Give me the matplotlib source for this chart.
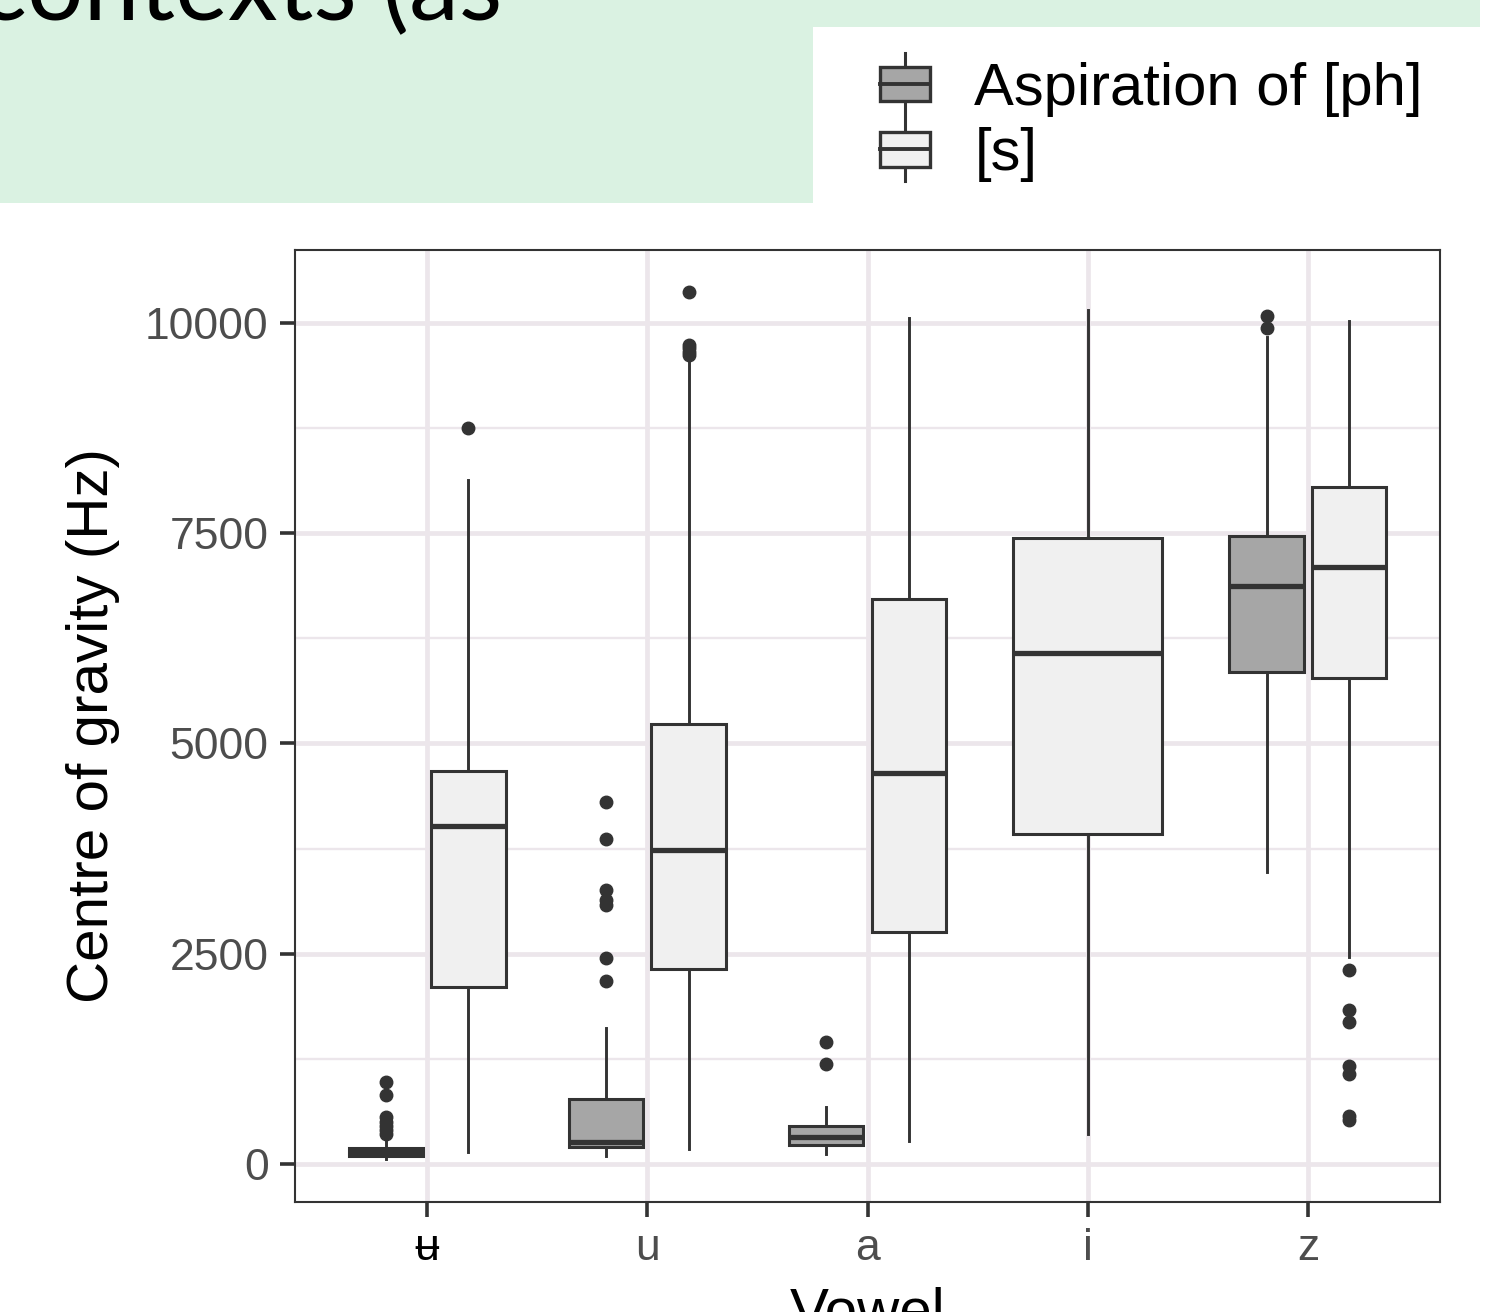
import matplotlib
matplotlib.use('Agg')
import matplotlib.pyplot as plt
from matplotlib.patches import Rectangle
from matplotlib.lines import Line2D
from matplotlib.legend_handler import HandlerBase

# ---- data ----
vowels = ['ʉ', 'u', 'a', 'i', 'z']

ph_vowels = ['ʉ', 'u', 'a', 'z']
ph_whislo = [59, 87, 119, 3472]
ph_q1 = [95, 202, 222, 5855]
ph_med = [143, 262, 317, 6873]
ph_q3 = [190, 770, 452, 7468]
ph_whishi = [265, 1613, 670, 9833]
ph_fliers = [[357, 400, 450, 500, 555, 812, 975],
             [2176, 2446, 3080, 3140, 3258, 3861, 4308],
             [1185, 1447],
             [9948, 10087]]

s_vowels = ['ʉ', 'u', 'a', 'i', 'z']
s_whislo = [143, 178, 273, 351, 2460]
s_q1 = [2105, 2319, 2759, 3924, 5774]
s_med = [4019, 3734, 4649, 6072, 7095]
s_q3 = [4673, 5232, 6718, 7443, 8048]
s_whishi = [8133, 9560, 10059, 10157, 10020]
s_fliers = [[8751],
            [9620, 9660, 9700, 9740, 10372],
            [],
            [],
            [524, 564, 1072, 1159, 1686, 1833, 2310]]

series_labels = ['Aspiration of [ph]', '[s]']
fills = ['#a6a6a6', '#f0f0f0']
yticks = [0, 2500, 5000, 7500, 10000]

INK = '#333333'
GRID = '#ece6eb'
TICKCOL = '#4d4d4d'
plt.rcParams['font.family'] = ['Liberation Sans', 'DejaVu Sans']


def make_stats(names, lo, q1, med, q3, hi, fl):
    out = []
    for i in range(len(names)):
        out.append(dict(label=names[i], whislo=lo[i], q1=q1[i], med=med[i],
                        q3=q3[i], whishi=hi[i], fliers=fl[i]))
    return out


ph_stats = make_stats(ph_vowels, ph_whislo, ph_q1, ph_med, ph_q3, ph_whishi, ph_fliers)
s_stats = make_stats(s_vowels, s_whislo, s_q1, s_med, s_q3, s_whishi, s_fliers)

fig = plt.figure(figsize=(14.89, 13.12), dpi=100)

# slide background bits
W, H = 1489.0, 1312.0
fig.patches.append(Rectangle((0, 1 - 203 / H), 813 / W, 203 / H, transform=fig.transFigure,
                             facecolor='#daf2e2', edgecolor='none', zorder=0))
fig.patches.append(Rectangle((0, 1 - 27 / H), 1480 / W, 27 / H, transform=fig.transFigure,
                             facecolor='#daf2e2', edgecolor='none', zorder=0))
fig.text(502 / W, 1 - 20 / H, 'contexts (as', family='Lato', fontsize=72,
         ha='right', va='baseline', color='black')

ax = fig.add_axes([295 / W, 1 - 1202 / H, (1440 - 295) / W, (1202 - 250) / H])

# dodge like ggplot: total width 0.75, padding 0.1
def positions_for(names, side):
    pos, wid = [], []
    for n in names:
        idx = vowels.index(n) + 1
        both = n in ph_vowels and n in s_vowels
        if both:
            pos.append(idx + side * 0.1875)
            wid.append(0.375 * 0.9)
        else:
            pos.append(idx)
            wid.append(0.75 * 0.9)
    return pos, wid


for stats, names, side, fc in [(ph_stats, ph_vowels, -1, fills[0]), (s_stats, s_vowels, 1, fills[1])]:
    pos, wid = positions_for(names, side)
    ax.bxp(stats, positions=pos, widths=wid, patch_artist=True, showcaps=False,
           boxprops=dict(facecolor=fc, edgecolor=INK, linewidth=2.2),
           medianprops=dict(color=INK, linewidth=3.8, solid_capstyle='butt'),
           whiskerprops=dict(color=INK, linewidth=2.1),
           flierprops=dict(marker='o', markersize=9, markerfacecolor=INK,
                           markeredgecolor=INK, linestyle='none'),
           manage_ticks=False, zorder=3)

ax.set_xlim(0.4, 5.6)
ax.set_ylim(-455, 10870)
ax.set_xticks(range(1, len(vowels) + 1))
ax.set_xticklabels(vowels)
ax.set_yticks(yticks)
ax.set_yticklabels([str(v) for v in yticks])
ax.set_yticks([1250, 3750, 6250, 8750], minor=True)
ax.grid(True, which='major', color=GRID, linewidth=3.4, zorder=0)
ax.grid(True, which='minor', axis='y', color=GRID, linewidth=1.7, zorder=0)
ax.set_axisbelow(True)
for sp in ax.spines.values():
    sp.set_color(INK)
    sp.set_linewidth(1.5)
ax.tick_params(axis='both', which='major', length=11, width=2.6, color=INK,
               labelsize=32, labelcolor=TICKCOL)
ax.tick_params(axis='y', which='minor', length=0)
ax.tick_params(axis='y', pad=8)
ax.tick_params(axis='x', pad=8)
ax.get_xticklabels()[0].set_color('black')
ax.set_ylabel('Centre of gravity (Hz)', fontsize=42, labelpad=18)
ax.set_xlabel('Vowel', fontsize=42, labelpad=12)


class BoxKey(HandlerBase):
    def create_artists(self, legend, orig_handle, xdescent, ydescent, width, height, fontsize, trans):
        fc = orig_handle.get_facecolor()
        bh = 25
        cy = height / 2 - ydescent
        x0 = -xdescent
        rect = Rectangle((x0, cy - bh / 2), width, bh, facecolor=fc, edgecolor=INK,
                         linewidth=2.4, transform=trans)
        med = Line2D([x0, x0 + width], [cy, cy], color=INK, linewidth=2.8, transform=trans)
        up = Line2D([x0 + width / 2] * 2, [cy + bh / 2, cy + bh / 2 + 10], color=INK,
                    linewidth=2.2, transform=trans)
        dn = Line2D([x0 + width / 2] * 2, [cy - bh / 2, cy - bh / 2 - 10], color=INK,
                    linewidth=2.2, transform=trans)
        return [up, dn, rect, med]


handles = [Rectangle((0, 0), 1, 1, facecolor=c) for c in fills]
fig.legend(handles, series_labels, handler_map={Rectangle: BoxKey()},
           loc='upper left', bbox_to_anchor=(880 / W, 1 - 62 / H), frameon=False,
           fontsize=43, handlelength=0.83, handletextpad=0.75, labelspacing=0.17,
           borderpad=0, borderaxespad=0)

fig.savefig('out.png', dpi=100)
